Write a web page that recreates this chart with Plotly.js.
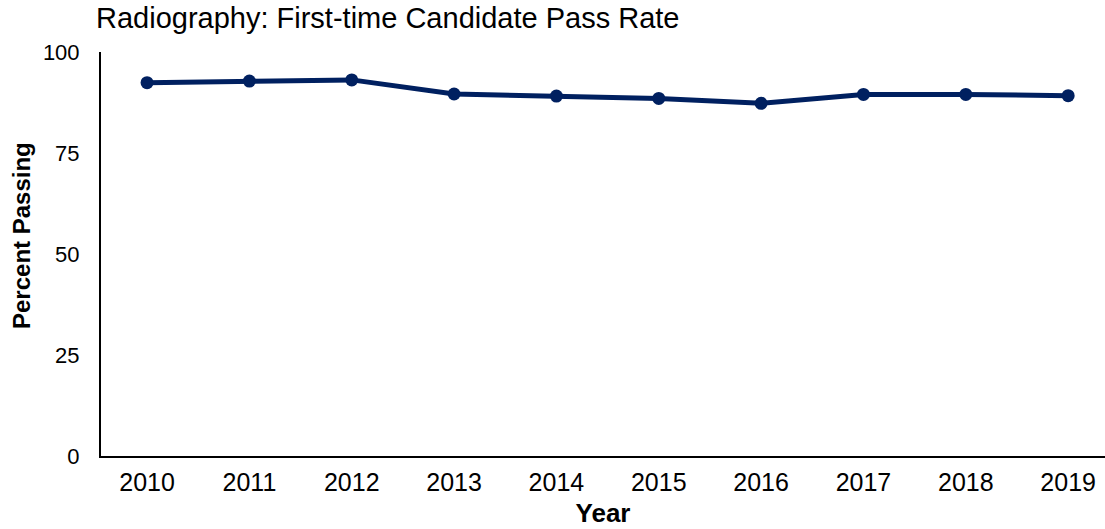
<!DOCTYPE html>
<html>
<head>
<meta charset="utf-8">
<script src="https://cdn.plot.ly/plotly-3.0.1.min.js"></script>
<style>html,body{margin:0;padding:0;background:#fff;}#chart{width:1105px;height:529px;}</style>
</head>
<body>
<div id="chart"></div>
<script>
const years = [2010, 2011, 2012, 2013, 2014, 2015, 2016, 2017, 2018, 2019];
const passRate = [92.4, 92.8, 93.1, 89.6, 89.1, 88.5, 87.3, 89.5, 89.5, 89.2];
const yTicks = [0, 25, 50, 75, 100];

const font = "Liberation Sans, Arial, sans-serif";
Plotly.newPlot('chart', [{
  x: years, y: passRate, type: 'scatter', mode: 'lines+markers',
  line: {color: '#002060', width: 5},
  marker: {color: '#002060', size: 13},
  hoverinfo: 'x+y'
}], {
  width: 1105, height: 529,
  margin: {l: 101, r: 0, t: 52, b: 73},
  paper_bgcolor: '#fff', plot_bgcolor: '#fff',
  font: {family: font, color: '#000'},
  showlegend: false,
  title: {text: 'Radiography: First-time Candidate Pass Rate', font: {family: font, size: 29, color: '#000'},
          xref: 'container', yref: 'container', x: 96/1105, xanchor: 'left', y: 1 - 8/529, yanchor: 'top'},
  xaxis: {
    range: [2009.55, 2019.36], tickvals: years, ticktext: years.map(String),
    showgrid: false, zeroline: false, showline: true, linecolor: '#000', linewidth: 2,
    ticks: '', ticklabelstandoff: 3, tickfont: {size: 25, family: font, color: '#000'},
    title: {text: '<b>Year</b>', font: {size: 26, family: font, color: '#000'}, standoff: 9}
  },
  yaxis: {
    range: [0, 100], tickvals: yTicks, ticktext: yTicks.map(String),
    showgrid: false, zeroline: false, showline: true, linecolor: '#000', linewidth: 2,
    ticks: '', ticklabelstandoff: 15, tickfont: {size: 22, family: font, color: '#000'}
  },
  annotations: [{
    text: '<b>Percent Passing</b>', textangle: -90, showarrow: false,
    xref: 'paper', yref: 'paper', x: (22 - 101) / 1004, y: (456 - 236) / 404,
    xanchor: 'center', yanchor: 'middle',
    font: {size: 24, family: font, color: '#000'}
  }]
}, {displayModeBar: false});
</script>
</body>
</html>
